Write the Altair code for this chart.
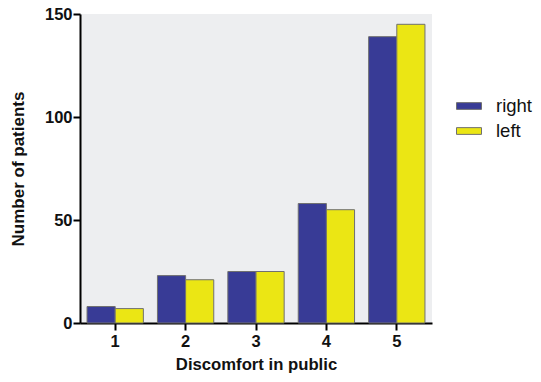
import altair as alt
import pandas as pd

# Discomfort scores and patient counts per side
scores = ["1", "2", "3", "4", "5"]
right_counts = [8, 23, 25, 58, 139]
left_counts = [7, 21, 25, 55, 145]
sides = ["right", "left"]
side_colors = ["#383b96", "#ebe614"]
y_ticks = [0, 50, 100, 150]

rows = []
for s, r, l in zip(scores, right_counts, left_counts):
    rows.append({"score": s, "side": "right", "patients": r})
    rows.append({"score": s, "side": "left", "patients": l})
df = pd.DataFrame(rows)

font = "Liberation Sans"

chart = (
    alt.Chart(df)
    .mark_bar(stroke="#707070", strokeWidth=1)
    .encode(
        x=alt.X(
            "score:N",
            sort=scores,
            scale=alt.Scale(paddingInner=0.2, paddingOuter=0.1),
            axis=alt.Axis(
                title="Discomfort in public",
                labelAngle=0,
                labelFont=font,
                labelFontSize=16.5,
                labelFontWeight="bold",
                labelColor="#111111",
                labelPadding=3,
                titleFont=font,
                titleFontSize=16.7,
                titleFontWeight="bold",
                titleColor="#111111",
                titlePadding=7,
                domainColor="#000000",
                domainWidth=2,
                tickColor="#000000",
                tickWidth=2,
                tickSize=7,
                grid=False,
            ),
        ),
        xOffset=alt.XOffset("side:N", sort=sides),
        y=alt.Y(
            "patients:Q",
            scale=alt.Scale(domain=[0, 150], nice=False),
            axis=alt.Axis(
                title="Number of patients",
                values=y_ticks,
                labelFont=font,
                labelFontSize=16.5,
                labelFontWeight="bold",
                labelColor="#111111",
                labelPadding=1,
                titleFont=font,
                titleFontSize=17,
                titleFontWeight="bold",
                titleColor="#111111",
                titlePadding=17,
                domainColor="#000000",
                domainWidth=2,
                tickColor="#000000",
                tickWidth=2,
                tickSize=7,
                grid=False,
            ),
        ),
        color=alt.Color(
            "side:N",
            sort=sides,
            scale=alt.Scale(domain=sides, range=side_colors),
            legend=alt.Legend(
                title=None,
                orient="none",
                legendX=376,
                legendY=79,
                padding=0,
                symbolType="M-1,-0.27H1V0.27H-1Z",
                symbolSize=625,
                symbolStrokeColor="#707070",
                symbolStrokeWidth=1,
                symbolOpacity=1,
                labelFont=font,
                labelFontSize=18.5,
                labelColor="#111111",
                labelOffset=14,
                rowPadding=2,
            ),
        ),
    )
    .properties(
        width=352,
        height=309,
        autosize=alt.AutoSizeParams(type="none"),
        padding={"left": 80, "top": 14, "right": 109, "bottom": 59},
    )
    .configure_view(fill="#edeef0", stroke=None)
)

chart.save("out.html", embed_options={"renderer": "svg", "actions": False})
